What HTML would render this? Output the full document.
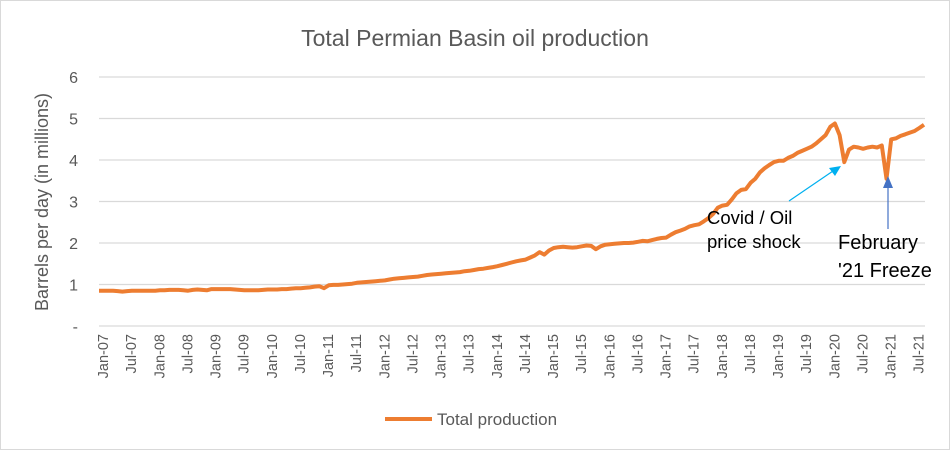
<!DOCTYPE html>
<html><head><meta charset="utf-8"><style>
body{margin:0;background:#fff}
svg{display:block;font-family:"Liberation Sans",sans-serif}
</style></head><body>
<svg id="chart" width="950" height="450" viewBox="0 0 950 450" xmlns="http://www.w3.org/2000/svg">
<rect x="0.5" y="0.5" width="949" height="449" fill="#fff" stroke="#d9d9d9"/>
<text x="475" y="46" text-anchor="middle" font-size="23" fill="#595959">Total Permian Basin oil production</text>
<text transform="translate(48,202) rotate(-90)" text-anchor="middle" font-size="18" fill="#595959">Barrels per day (in millions)</text>
<g id="grid"></g><g id="yticks"></g><g id="xticks"></g>
<path id="line" fill="none" stroke="#ED7D31" stroke-width="4" stroke-linejoin="round"/>
<g>
<line x1="789" y1="201" x2="833" y2="171" stroke="#00B0F0" stroke-width="1.2"/>
<polygon points="841,166 829,168 835,176" fill="#00B0F0"/>
<text x="707" y="224" font-size="18.5" fill="#000">Covid / Oil</text>
<text x="707" y="248" font-size="18.5" fill="#000">price shock</text>
</g>
<g>
<line x1="888" y1="229" x2="888" y2="186" stroke="#4472C4" stroke-width="1.2"/>
<polygon points="888,176 883,188 893,188" fill="#4472C4"/>
<text x="838" y="249" font-size="20" fill="#000">February</text>
<text x="838" y="277" font-size="20" fill="#000">'21 Freeze</text>
</g>
<g>
<line x1="385" y1="419" x2="432" y2="419" stroke="#ED7D31" stroke-width="4"/>
<text x="437" y="425" font-size="17" fill="#595959">Total production</text>
</g>
</svg>
<script>
const yTicks=[0,1,2,3,4,5,6];
const yTickLabels=["-","1","2","3","4","5","6"];
const startYear=2007;
const production=[
.85,.85,.85,.85,.84,.83,.84,.85,.85,.85,.85,.85,
.85,.86,.86,.87,.87,.87,.86,.85,.87,.88,.87,.86,
.89,.89,.89,.89,.89,.88,.87,.86,.86,.86,.86,.87,
.88,.88,.88,.89,.89,.90,.91,.91,.92,.93,.95,.96,
.91,.98,.99,.99,1.0,1.01,1.02,1.04,1.05,1.06,1.07,1.08,
1.09,1.1,1.12,1.14,1.15,1.16,1.17,1.18,1.19,1.21,1.23,1.24,
1.25,1.26,1.27,1.28,1.29,1.3,1.32,1.33,1.35,1.37,1.38,1.4,
1.42,1.44,1.47,1.5,1.53,1.56,1.58,1.6,1.65,1.7,1.78,1.72,
1.82,1.88,1.9,1.91,1.9,1.89,1.9,1.92,1.94,1.93,1.85,1.92,
1.96,1.97,1.98,1.99,2.0,2.0,2.01,2.03,2.05,2.04,2.07,2.1,
2.12,2.13,2.2,2.26,2.3,2.34,2.4,2.43,2.45,2.52,2.6,2.7,
2.85,2.9,2.92,3.05,3.2,3.28,3.3,3.45,3.55,3.7,3.8,3.88,
3.95,3.98,3.98,4.05,4.1,4.17,4.22,4.27,4.32,4.4,4.5,4.6,
4.8,4.88,4.6,3.95,4.25,4.32,4.3,4.27,4.3,4.32,4.3,4.35,
3.55,4.5,4.52,4.58,4.62,4.66,4.7,4.77,4.85];
const NS="http://www.w3.org/2000/svg";
const X0=99,X1=924,Y0=326,Y6=77;
const n=production.length;
function xs(i){return X0+i*(X1-X0)/(n-1);}
function ys(v){return Y0-v*(Y0-Y6)/6;}
const grid=document.getElementById('grid'),yt=document.getElementById('yticks'),xt=document.getElementById('xticks');
yTicks.forEach((t,k)=>{
 const l=document.createElementNS(NS,'line');
 
 
 l.setAttribute('x1',X0);l.setAttribute('x2',X1+1);l.setAttribute('y1',ys(t));l.setAttribute('y2',ys(t));
 l.setAttribute('stroke','#d9d9d9');l.setAttribute('stroke-width','1.3');grid.appendChild(l);
 const tx=document.createElementNS(NS,'text');
 
 
 tx.setAttribute('x',78);tx.setAttribute('y',ys(t)+6);tx.setAttribute('text-anchor','end');
 tx.setAttribute('font-size','16');tx.setAttribute('fill','#595959');tx.textContent=yTickLabels[k];yt.appendChild(tx);
});
const mon=["Jan","Jul"];
for(let i=0;i<n;i+=6){
 const yr=startYear+Math.floor(i/12);
 const lab=mon[(i%12)/6]+"-"+String(yr%100).padStart(2,'0');
 const tx=document.createElementNS(NS,'text');
 
 
 const x=xs(i)+9;
 tx.setAttribute('transform','translate('+x+',334) rotate(-90)');
 tx.setAttribute('text-anchor','end');tx.setAttribute('font-size','14.5');tx.setAttribute('fill','#595959');
 tx.textContent=lab;xt.appendChild(tx);
}
document.getElementById('line').setAttribute('d',production.map((v,i)=>(i?'L':'M')+xs(i).toFixed(1)+','+ys(v).toFixed(1)).join(''));
</script>
</body></html>
